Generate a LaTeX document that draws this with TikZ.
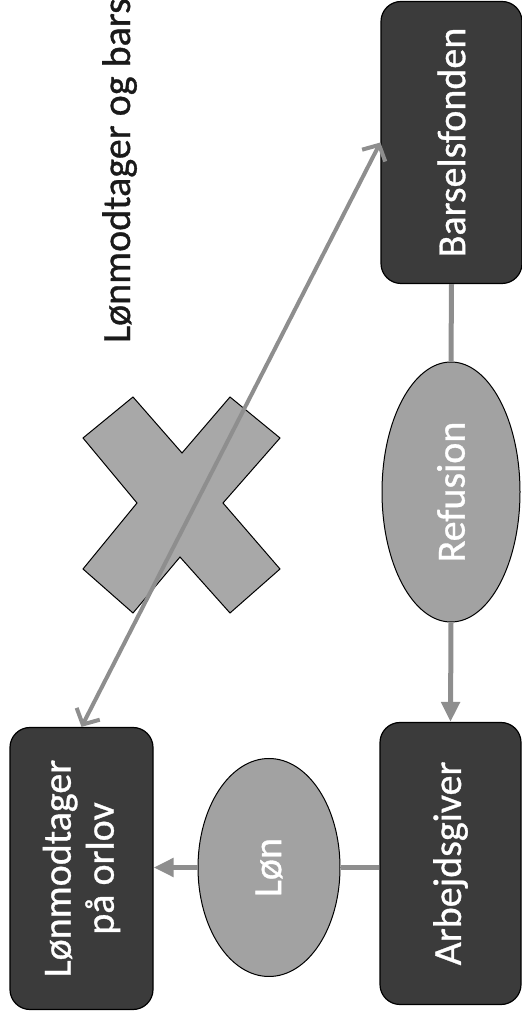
\documentclass[tikz,border=0pt]{standalone}
\usepackage{fontspec}
\setmainfont{Carlito}[FakeBold=0.8]
\usetikzlibrary{shapes.geometric,arrows.meta}
\definecolor{boxgray}{HTML}{3B3B3B}
\definecolor{ellgray}{HTML}{A2A2A2}
\definecolor{xgray}{HTML}{A8A8A8}
\definecolor{conngray}{HTML}{8E8E8E}
\definecolor{titleblack}{HTML}{1A1A1A}
\begin{document}
\begin{tikzpicture}[x=1pt,y=1pt,
  bigfont/.style={font=\fontsize{40}{43}\selectfont},
  boxnode/.style={draw=black, line width=1.2pt, fill=boxgray, rounded corners=20pt,
    minimum width=141pt, minimum height=282pt, inner sep=0pt, text=white, bigfont},
  ellnode/.style={ellipse, draw=black, line width=1pt, fill=ellgray, inner sep=0pt,
    text=white, bigfont},
  conn/.style={draw=conngray, line width=5pt},
  tipconn/.style={conn, -{Triangle[width=18pt,length=20pt]}},
  diag/.style={draw=conngray, line width=4pt,
    {Straight Barb[length=12pt,width=26pt]}-{Straight Barb[length=12pt,width=26pt]}},
  crossshape/.style={draw=black, line width=1pt, fill=xgray}]
\useasboundingbox (0,0) rectangle (522,1018);

% title
\node[anchor=base west, rotate=90, inner sep=0pt, bigfont, text=titleblack] (title)
  at (130,675) {Lønmodtager og bars};

% boxes and ellipses
\node[boxnode] (bars) at (451.5,875.5) {\rotatebox{90}{Barselsfonden}};
\node[ellnode, minimum width=138pt, minimum height=260pt] (ref) at (451,526)
  {\rotatebox{90}{Refusion}};
\node[boxnode] (arb) at (450.5,154.5) {\rotatebox{90}{Arbejdsgiver}};
\node[boxnode, minimum width=143pt] (lm) at (81.5,149.5)
  {\rotatebox{90}{\begin{minipage}{260pt}\centering Lønmodtager\\på orlov\end{minipage}}};
\node[ellnode, minimum width=142pt, minimum height=218pt] (lon) at (269,150.5)
  {\rotatebox{90}{Løn}};

% cross
\draw[crossshape] (83,580) -- (133,621) -- (182,565) -- (230,621) -- (280,580)
  -- (223,515) -- (280,449) -- (230,405) -- (180,461) -- (133,405) -- (83,449)
  -- (137,515) -- cycle;

% connectors
\draw[conn] (bars.south) -- (ref.north);
\draw[tipconn] (ref.south) -- (arb.north);
\draw[conn] (arb.west |- lon.east) -- (lon.east);
\draw[tipconn] (lon.west) -- (lm.east |- lon.west);
\draw[diag] (lm.north) -- (bars.west);
\end{tikzpicture}
\end{document}
